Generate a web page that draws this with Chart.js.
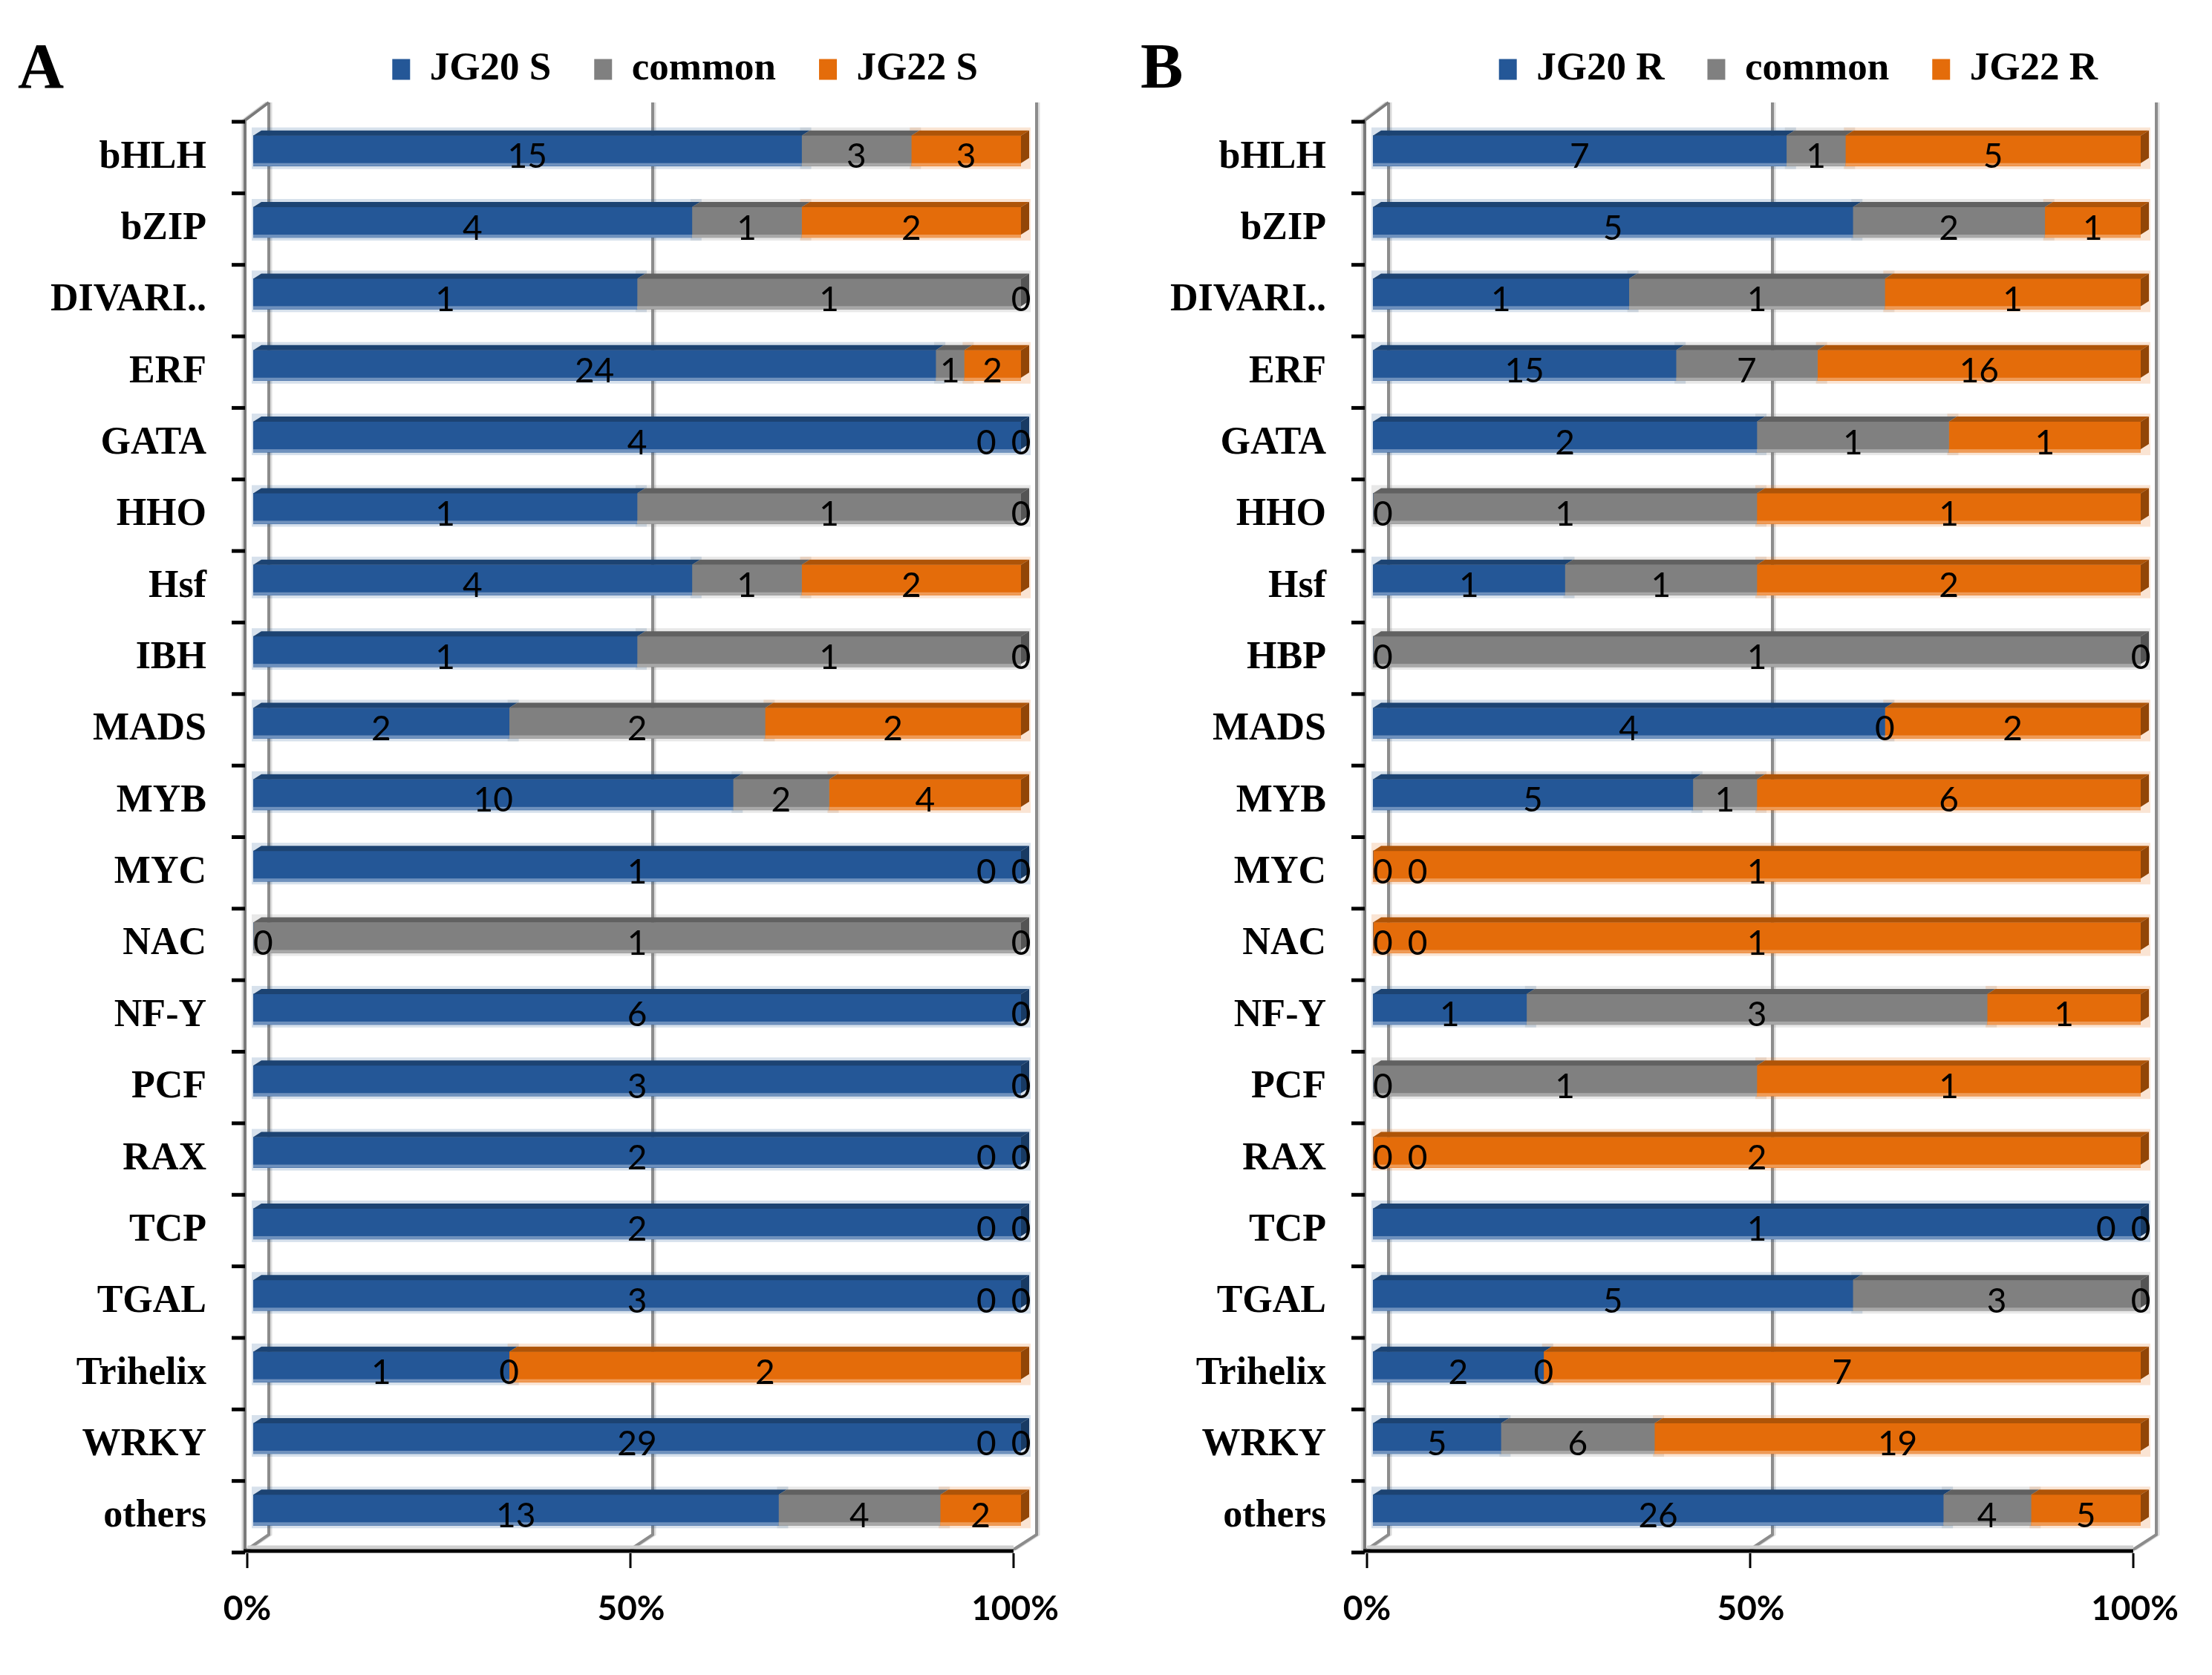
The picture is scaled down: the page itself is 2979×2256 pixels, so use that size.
<!DOCTYPE html>
<html lang="en">
<head>
<meta charset="UTF-8">
<title>TF families: JG20 vs JG22</title>
<script src="https://cdn.jsdelivr.net/npm/chart.js"></script>
<style>
    html, body { margin: 0; padding: 0; background: #fff; }
    body { width: 2979px; height: 2256px; position: relative; overflow: hidden; }
    .panel { position: absolute; top: 0; width: 1470px; height: 2256px; }
    .tag { position: absolute; top: 46px; font: bold 86px "Liberation Serif", "Times New Roman", serif; line-height: 1; color: #000; }
</style>
</head>
<body>

<canvas id="chartS" class="panel" width="1470" height="2256" style="left:0"></canvas>
<canvas id="chartR" class="panel" width="1470" height="2256" style="left:1508px"></canvas>
<div class="tag" style="left:24px">A</div>
<div class="tag" style="left:1536px">B</div>

<script>
    // ---- data (counts per family) ----
    const familiesS = ['bHLH', 'bZIP', 'DIVARI..', 'ERF', 'GATA', 'HHO', 'Hsf', 'IBH', 'MADS', 'MYB',
        'MYC', 'NAC', 'NF-Y', 'PCF', 'RAX', 'TCP', 'TGAL', 'Trihelix', 'WRKY', 'others'];
    const jg20S = [15, 4, 1, 24, 4, 1, 4, 1, 2, 10, 1, 0, 6, 3, 2, 2, 3, 1, 29, 13];
    const commonS = [3, 1, 1, 1, 0, 1, 1, 1, 2, 2, 0, 1, 0, 0, 0, 0, 0, 0, 0, 4];
    const jg22S = [3, 2, 0, 2, 0, 0, 2, 0, 2, 4, 0, 0, null, null, 0, 0, 0, 2, 0, 2];

    const familiesR = ['bHLH', 'bZIP', 'DIVARI..', 'ERF', 'GATA', 'HHO', 'Hsf', 'HBP', 'MADS', 'MYB',
        'MYC', 'NAC', 'NF-Y', 'PCF', 'RAX', 'TCP', 'TGAL', 'Trihelix', 'WRKY', 'others'];
    const jg20R = [7, 5, 1, 15, 2, 0, 1, 0, 4, 5, 0, 0, 1, 0, 0, 1, 5, 2, 5, 26];
    const commonR = [1, 2, 1, 7, 1, 1, 1, 1, 0, 1, 0, 0, 3, 1, 0, 0, 3, 0, 6, 4];
    const jg22R = [5, 1, 1, 16, 1, 1, 2, 0, 2, 6, 1, 1, 1, 1, 2, 0, 0, 7, 19, 5];

    const seriesNamesS = ['JG20 S', 'common', 'JG22 S'];
    const seriesNamesR = ['JG20 R', 'common', 'JG22 R'];
    const percentTicks = [0, 50, 100];

    // front / top / side / lower edge / glow
    const shades = [
        { front: '#245797', top: '#1c4372', side: '#183a63', edge: '#6f91bd', glow: 'rgba(36,87,151,0.18)' },
        { front: '#808080', top: '#616161', side: '#545454', edge: '#a8a8a8', glow: 'rgba(128,128,128,0.18)' },
        { front: '#E46C0A', top: '#AE5408', side: '#924607', edge: '#ef9b57', glow: 'rgba(228,108,10,0.18)' }
    ];
    const depth = { dx: 11, dy: 7 };

    function shares(series, k) {
        return series[k].map((v, i) => {
            if (v === null) return null;
            const total = series.reduce((s, arr) => s + (arr[i] || 0), 0);
            return total ? v / total * 100 : 0;
        });
    }

    function barBox(el) {
        const x0 = Math.min(el.base, el.x), x1 = Math.max(el.base, el.x);
        return { x0, x1, y0: el.y - el.height / 2, y1: el.y + el.height / 2 };
    }

    // back wall, left wall, floor and tick marks of the 3D look
    const wallPlugin = {
        id: 'walls',
        beforeDatasetsDraw(chart) {
            const ctx = chart.ctx, xs = chart.scales.x;
            const { top, bottom } = chart.chartArea;
            const front = v => xs.getPixelForValue(v) - 8 - v * 0.02;
            const back = v => xs.getPixelForValue(v) + 21;
            const lx = front(0) - 3;
            ctx.save();

            percentTicks.forEach(v => {
                [['#dcdcdc', 3, 3], ['#8c8c8c', 4, 0]].forEach(([c, w, off]) => {
                    ctx.strokeStyle = c; ctx.lineWidth = w;
                    ctx.beginPath();
                    ctx.moveTo(back(v) + off, top - 17);
                    ctx.lineTo(back(v) + off, bottom - 15);
                    ctx.lineTo(front(v) + off, bottom + 5);
                    ctx.stroke();
                });
            });

            [['#d4d4d4', 3, -3], ['#7a7a7a', 4, 0]].forEach(([c, w, off]) => {
                ctx.strokeStyle = c; ctx.lineWidth = w;
                ctx.beginPath();
                ctx.moveTo(lx + off, bottom + 7);
                ctx.lineTo(lx + off, top + 7);
                ctx.lineTo(back(0) + off, top - 17);
                ctx.stroke();
            });

            // floor
            ctx.strokeStyle = '#cfcfcf'; ctx.lineWidth = 5;
            ctx.beginPath(); ctx.moveTo(front(0), bottom + 2); ctx.lineTo(front(100), bottom + 2); ctx.stroke();
            ctx.strokeStyle = '#000'; ctx.lineWidth = 5;
            ctx.beginPath(); ctx.moveTo(lx - 2, bottom + 7); ctx.lineTo(front(100), bottom + 7); ctx.stroke();

            // x tick marks
            ctx.lineWidth = 3;
            percentTicks.forEach(v => {
                ctx.beginPath(); ctx.moveTo(front(v), bottom + 10); ctx.lineTo(front(v), bottom + 30); ctx.stroke();
            });

            // y tick marks at category boundaries
            const n = chart.data.labels.length;
            const band = (bottom - top) / n;
            ctx.lineWidth = 5;
            for (let k = 0; k <= n; k++) {
                const y = top + k * band + 9;
                ctx.beginPath(); ctx.moveTo(lx - 18, y); ctx.lineTo(lx, y); ctx.stroke();
            }

            // soft glow round the bars
            chart.data.datasets.forEach((ds, di) => {
                chart.getDatasetMeta(di).data.forEach((el, i) => {
                    if (ds.data[i] === null) return;
                    const b = barBox(el);
                    if (b.x1 - b.x0 < 0.5) return;
                    ctx.fillStyle = ds.shade.glow;
                    ctx.fillRect(b.x0 - 2, b.y0 - depth.dy - 4, b.x1 - b.x0 + depth.dx + 4, b.y1 - b.y0 + depth.dy + 8);
                });
            });
            ctx.restore();
        }
    };

    // top face, right side face and light lower edge of each bar
    const barFacePlugin = {
        id: 'barFaces',
        afterDatasetsDraw(chart) {
            const ctx = chart.ctx, { dx, dy } = depth;
            const n = chart.data.labels.length;
            ctx.save();
            for (let i = 0; i < n; i++) {
                let last = null;
                chart.data.datasets.forEach((ds, di) => {
                    if (ds.data[i] === null) return;
                    const el = chart.getDatasetMeta(di).data[i];
                    const b = barBox(el);
                    if (b.x1 - b.x0 < 0.5) return;
                    ctx.fillStyle = ds.shade.top;
                    ctx.beginPath();
                    ctx.moveTo(b.x0, b.y0);
                    ctx.lineTo(b.x1, b.y0);
                    ctx.lineTo(b.x1 + dx, b.y0 - dy);
                    ctx.lineTo(b.x0 + dx, b.y0 - dy);
                    ctx.closePath();
                    ctx.fill();
                    ctx.fillStyle = ds.shade.edge;
                    ctx.fillRect(b.x0, b.y1 - 4, b.x1 - b.x0, 4);
                    last = { b, shade: ds.shade };
                });
                if (last) {
                    const b = last.b;
                    ctx.fillStyle = last.shade.side;
                    ctx.beginPath();
                    ctx.moveTo(b.x1, b.y0);
                    ctx.lineTo(b.x1 + dx, b.y0 - dy);
                    ctx.lineTo(b.x1 + dx, b.y1 - dy - 4);
                    ctx.lineTo(b.x1, b.y1 - 4);
                    ctx.closePath();
                    ctx.fill();
                }
            }
            ctx.restore();
        }
    };

    // count labels in the middle of each segment, pushed apart when they collide
    const labelPlugin = {
        id: 'countLabels',
        afterDatasetsDraw(chart) {
            const ctx = chart.ctx;
            const { left, right } = chart.chartArea;
            const gap = 20;
            ctx.save();
            ctx.font = '46px Lato, "Open Sans", sans-serif';
            ctx.fillStyle = '#000';
            ctx.textAlign = 'center';
            ctx.textBaseline = 'alphabetic';
            chart.data.labels.forEach((_, i) => {
                const items = [];
                chart.data.datasets.forEach((ds, di) => {
                    const c = ds.counts[i];
                    if (c === null) return;
                    const el = chart.getDatasetMeta(di).data[i];
                    const text = String(c);
                    const w = ctx.measureText(text).width;
                    items.push({ text, w, x: (el.x + el.base) / 2, y: el.y });
                });
                items.forEach(it => { it.x = Math.min(Math.max(it.x, left + it.w / 2), right); });
                for (let k = 1; k < items.length; k++) {
                    const min = items[k - 1].x + (items[k - 1].w + items[k].w) / 2 + gap;
                    items[k].x = Math.max(items[k].x, min);
                }
                if (items.length) items[items.length - 1].x = Math.min(items[items.length - 1].x, right);
                for (let k = items.length - 2; k >= 0; k--) {
                    const max = items[k + 1].x - (items[k + 1].w + items[k].w) / 2 - gap;
                    items[k].x = Math.min(items[k].x, max);
                }
                items.forEach(it => ctx.fillText(it.text, it.x, it.y + 23));
            });
            ctx.restore();
        }
    };

    function makeChart(id, families, series, names) {
        const datasets = series.map((vals, k) => ({
            label: names[k],
            data: shares(series, k),
            counts: vals,
            shade: shades[k],
            backgroundColor: shades[k].front,
            borderWidth: 0,
            barThickness: 41,
            xAxisID: 'x',
            yAxisID: 'y'
        }));

        return new Chart(document.getElementById(id), {
            type: 'bar',
            data: { labels: families, datasets: datasets },
            options: {
                indexAxis: 'y',
                responsive: false,
                animation: false,
                devicePixelRatio: 1,
                layout: { padding: { top: 9, right: 95, left: 0, bottom: 0 } },
                plugins: {
                    legend: {
                        position: 'top',
                        align: 'end',
                        labels: {
                            boxWidth: 24,
                            boxHeight: 28,
                            padding: 58,
                            color: '#000',
                            font: { family: '"Liberation Serif", "Times New Roman", serif', weight: 'bold', size: 53 }
                        }
                    },
                    tooltip: { enabled: false }
                },
                scales: {
                    x: {
                        stacked: true,
                        position: 'bottom',
                        min: 0,
                        max: 100,
                        grid: { display: false, drawTicks: false },
                        border: { display: false },
                        afterBuildTicks: s => { s.ticks = percentTicks.map(v => ({ value: v })); },
                        ticks: {
                            padding: 58,
                            labelOffset: -8,
                            color: '#000',
                            font: { family: 'Lato, "Open Sans", sans-serif', weight: 'bold', size: 46 },
                            callback: v => v + '%'
                        },
                        afterFit: s => { s.height = 174; s.paddingLeft = 0; s.paddingRight = 0; }
                    },
                    top: {
                        type: 'linear',
                        position: 'top',
                        grid: { display: false, drawTicks: false },
                        border: { display: false },
                        ticks: { display: false },
                        afterFit: s => { s.height = 25; s.paddingLeft = 0; s.paddingRight = 0; }
                    },
                    y: {
                        stacked: true,
                        grid: { display: false, drawTicks: false },
                        border: { display: false },
                        ticks: {
                            padding: 63,
                            labelOffset: 9,
                            autoSkip: false,
                            color: '#000',
                            font: { family: '"Liberation Serif", "Times New Roman", serif', weight: 'bold', size: 52 }
                        },
                        afterFit: s => { s.width = 341; }
                    }
                }
            },
            plugins: [wallPlugin, barFacePlugin, labelPlugin]
        });
    }

    makeChart('chartS', familiesS, [jg20S, commonS, jg22S], seriesNamesS);
    makeChart('chartR', familiesR, [jg20R, commonR, jg22R], seriesNamesR);
</script>
</body>
</html>
